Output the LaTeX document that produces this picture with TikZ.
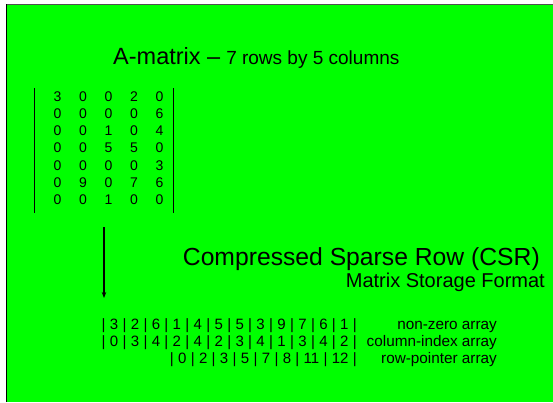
\documentclass[tikz,border=0pt]{standalone}
\usepackage{fontspec}
\setmainfont{Liberation Sans}
\usetikzlibrary{matrix,arrows.meta}
\definecolor{bg}{RGB}{0,255,0}
\definecolor{topline}{RGB}{80,80,80}
\newcommand{\arrrow}[1]{\spaceskip=4.35pt\relax #1}
\begin{document}
\begin{tikzpicture}[x=1pt,y=-1pt,
  cell/.style={minimum width=25.5pt,minimum height=17.17pt,inner sep=0pt,font=\fontsize{14}{16}\selectfont},
  arr/.style={anchor=base east,inner sep=0pt,font=\fontsize{15}{17}\selectfont},
  lbl/.style={anchor=base east,inner sep=0pt,font=\fontsize{15.3}{17}\selectfont},
  bigtxt/.style={inner sep=0pt,font=\fontsize{24.7}{28}\selectfont},
  midtxt/.style={inner sep=0pt,font=\fontsize{20}{22}\selectfont},
  vbar/.style={line width=1pt,black}]
\useasboundingbox (0,0) rectangle (553,402);
\fill[white] (0,0) rectangle (553,402);
\fill[bg] (6,4.5) rectangle (553,402);
\draw[topline,line width=1.5pt] (6,4.5) -- (553,4.5);
\draw[black,line width=1.5pt] (6.25,4) -- (6.25,402);

% title
\node (title) [anchor=base west,inner sep=0pt] at (113,64)
  {{\fontsize{23.5}{28}\selectfont A-matrix –}\hspace{6pt}{\fontsize{19}{22}\selectfont 7 rows by 5 columns}};

% matrix
\matrix (A) [matrix of nodes,nodes={cell},column sep=0pt,row sep=0pt,inner sep=0pt,anchor=center] at (108.5,148) {
3 & 0 & 0 & 2 & 0 \\
0 & 0 & 0 & 0 & 6 \\
0 & 0 & 1 & 0 & 4 \\
0 & 0 & 5 & 5 & 0 \\
0 & 0 & 0 & 0 & 3 \\
0 & 9 & 0 & 7 & 6 \\
0 & 0 & 1 & 0 & 0 \\
};
\coordinate (lt) at (34,88);
\coordinate (lb) at (34,213);
\coordinate (rt) at (173,88);
\coordinate (rb) at (173,213);
\draw[vbar] (lt) -- (lb);
\draw[vbar] (rt) -- (rb);

% arrow
\coordinate (arrS) at (104,227);
\coordinate (arrE) at (104,298);
\draw[line width=1.3pt,-{Stealth[length=6pt,width=4.5pt]}] (arrS) -- (arrE);

% CSR title
\node (csr) [bigtxt,anchor=base east] at (540,265) {Compressed Sparse Row (CSR)};
\node (fmt) [midtxt,anchor=base east] at (545,287) {Matrix Storage Format};

% arrays
\node (nz) [arr] at (357,329) {\arrrow{| 3 | 2 | 6 | 1 | 4 | 5 | 5 | 3 | 9 | 7 | 6 | 1 |}};
\node (ci) [arr] at (357,346) {\arrrow{| 0 | 3 | 4 | 2 | 4 | 2 | 3 | 4 | 1 | 3 | 4 | 2 |}};
\node (rp) [arr] at (357,363) {\arrrow{| 0 | 2 | 3 | 5 | 7 | 8 | 11 | 12 |}};
\node (nzl) [lbl] at (497,329) {non-zero array};
\node (cil) [lbl] at (497,346) {column-index array};
\node (rpl) [lbl] at (497,363) {row-pointer array};
\end{tikzpicture}
\end{document}
